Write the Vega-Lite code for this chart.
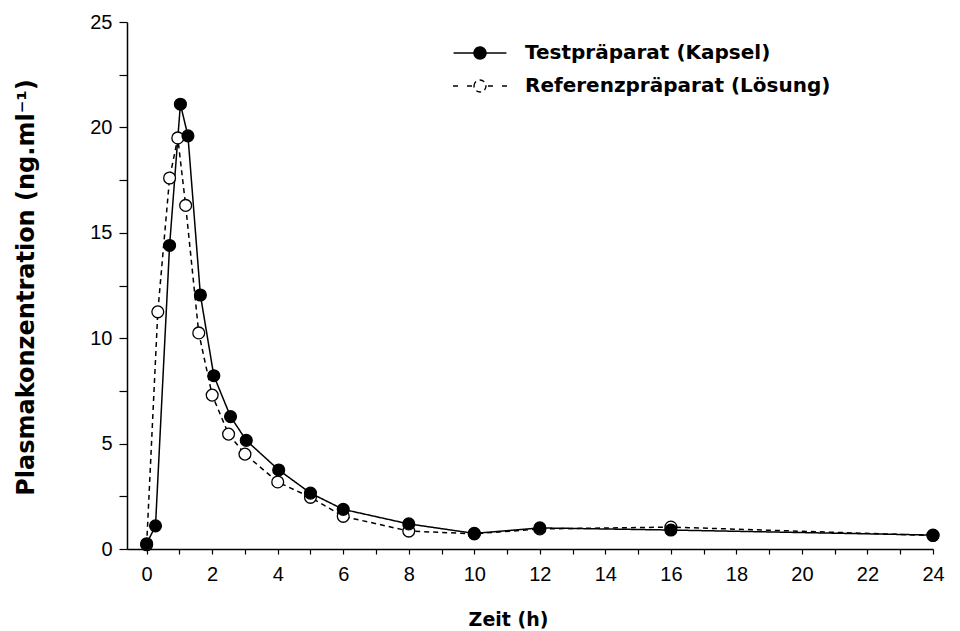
{
  "$schema": "https://vega.github.io/schema/vega-lite/v6.json",
  "width": 806,
  "height": 527,
  "autosize": {"type": "none"},
  "padding": {"left": 127, "top": 22, "right": 27, "bottom": 82},
  "background": "white",
  "config": {
    "view": {"stroke": null},
    "axis": {
      "domainColor": "black",
      "domainWidth": 1.5,
      "tickColor": "black",
      "tickWidth": 1.2,
      "labelColor": "black",
      "labelFont": "Liberation Sans",
      "labelFontSize": 20,
      "titleColor": "black",
      "titleFont": "DejaVu Sans",
      "titleFontWeight": "bold",
      "titleFontSize": 19,
      "grid": false
    },
    "legend": {
      "title": null,
      "orient": "none",
      "legendX": 343,
      "legendY": 21,
      "padding": 0,
      "symbolSize": 144,
      "symbolStrokeColor": "black",
      "symbolStrokeWidth": 1.4,
      "symbolOpacity": 1,
      "labelOffset": 35,
      "rowPadding": 13,
      "labelFont": "DejaVu Sans",
      "labelFontWeight": "bold",
      "labelFontSize": 20,
      "labelColor": "black",
      "labelLimit": 0
    }
  },
  "data": {
    "values": [
      {"t": 0, "c": 0.2, "s": "Referenzpräparat (Lösung)"},
      {"t": 0.34, "c": 11.25, "s": "Referenzpräparat (Lösung)"},
      {"t": 0.7, "c": 17.6, "s": "Referenzpräparat (Lösung)"},
      {"t": 0.95, "c": 19.5, "s": "Referenzpräparat (Lösung)"},
      {"t": 1.19, "c": 16.3, "s": "Referenzpräparat (Lösung)"},
      {"t": 1.59, "c": 10.25, "s": "Referenzpräparat (Lösung)"},
      {"t": 2.0, "c": 7.3, "s": "Referenzpräparat (Lösung)"},
      {"t": 2.5, "c": 5.45, "s": "Referenzpräparat (Lösung)"},
      {"t": 3.0, "c": 4.5, "s": "Referenzpräparat (Lösung)"},
      {"t": 4.0, "c": 3.18, "s": "Referenzpräparat (Lösung)"},
      {"t": 5.0, "c": 2.45, "s": "Referenzpräparat (Lösung)"},
      {"t": 6.0, "c": 1.55, "s": "Referenzpräparat (Lösung)"},
      {"t": 8.0, "c": 0.85, "s": "Referenzpräparat (Lösung)"},
      {"t": 10.0, "c": 0.72, "s": "Referenzpräparat (Lösung)"},
      {"t": 12.0, "c": 0.95, "s": "Referenzpräparat (Lösung)"},
      {"t": 16.0, "c": 1.04, "s": "Referenzpräparat (Lösung)"},
      {"t": 24.0, "c": 0.64, "s": "Referenzpräparat (Lösung)"},
      {"t": 0, "c": 0.25, "s": "Testpräparat (Kapsel)"},
      {"t": 0.27, "c": 1.1, "s": "Testpräparat (Kapsel)"},
      {"t": 0.7, "c": 14.4, "s": "Testpräparat (Kapsel)"},
      {"t": 1.03, "c": 21.1, "s": "Testpräparat (Kapsel)"},
      {"t": 1.26, "c": 19.6, "s": "Testpräparat (Kapsel)"},
      {"t": 1.64, "c": 12.05, "s": "Testpräparat (Kapsel)"},
      {"t": 2.05, "c": 8.22, "s": "Testpräparat (Kapsel)"},
      {"t": 2.56, "c": 6.28, "s": "Testpräparat (Kapsel)"},
      {"t": 3.04, "c": 5.15, "s": "Testpräparat (Kapsel)"},
      {"t": 4.03, "c": 3.75, "s": "Testpräparat (Kapsel)"},
      {"t": 5.0, "c": 2.65, "s": "Testpräparat (Kapsel)"},
      {"t": 6.0, "c": 1.88, "s": "Testpräparat (Kapsel)"},
      {"t": 8.0, "c": 1.19, "s": "Testpräparat (Kapsel)"},
      {"t": 10.0, "c": 0.74, "s": "Testpräparat (Kapsel)"},
      {"t": 12.0, "c": 1.0, "s": "Testpräparat (Kapsel)"},
      {"t": 16.0, "c": 0.9, "s": "Testpräparat (Kapsel)"},
      {"t": 24.0, "c": 0.66, "s": "Testpräparat (Kapsel)"}
    ]
  },
  "encoding": {
    "x": {
      "field": "t",
      "type": "quantitative",
      "scale": {"domain": [-0.6, 24], "nice": false, "zero": false},
      "axis": {
        "values": [0,1,2,3,4,5,6,7,8,9,10,11,12,13,14,15,16,17,18,19,20,21,22,23,24],
        "labelExpr": "datum.value % 2 == 0 ? datum.label : ''",
        "tickSize": 5,
        "labelPadding": 10,
        "labelFlush": false,
        "title": "Zeit (h)",
        "titleX": 381,
        "titleY": 70,
        "titleBaseline": "middle"
      }
    },
    "y": {
      "field": "c",
      "type": "quantitative",
      "scale": {"domain": [0, 25], "nice": false},
      "axis": {
        "values": [0,2.5,5,7.5,10,12.5,15,17.5,20,22.5,25],
        "labelExpr": "datum.value % 5 == 0 ? datum.label : ''",
        "tickSize": 8,
        "labelPadding": 7,
        "labelFlush": false,
        "title": "Plasmakonzentration (ng.ml⁻¹)",
        "titleFontSize": 24,
        "titleX": -101,
        "titleY": 265,
        "titleBaseline": "middle"
      }
    }
  },
  "layer": [
    {
      "mark": {"type": "line", "color": "black", "strokeWidth": 1.5},
      "encoding": {
        "detail": {"field": "s"},
        "strokeDash": {
          "field": "s",
          "type": "nominal",
          "sort": ["Testpräparat (Kapsel)", "Referenzpräparat (Lösung)"],
          "scale": {"domain": ["Testpräparat (Kapsel)", "Referenzpräparat (Lösung)"], "range": [[1, 0], [5, 4]]}
        }
      }
    },
    {
      "mark": {"type": "point", "shape": "circle", "size": 140, "stroke": "black", "strokeWidth": 1.3, "opacity": 1, "filled": true},
      "encoding": {
        "fill": {
          "field": "s",
          "type": "nominal",
          "sort": ["Testpräparat (Kapsel)", "Referenzpräparat (Lösung)"],
          "scale": {"domain": ["Testpräparat (Kapsel)", "Referenzpräparat (Lösung)"], "range": ["black", "white"]},
          "legend": {
            "encode": {
              "symbols": {
                "update": {
                  "shape": {"signal": "datum.index == 0 ? 'M-4.4,0H4.4M-1,0A1,1 0 1,1 1,0A1,1 0 1,1 -1,0Z' : 'M-4.5,0H-3.67M-2.17,0H-1.33M1.33,0H2.17M3.67,0H4.5M-1,0A1,1 0 1,1 1,0A1,1 0 1,1 -1,0Z'"},
                  "stroke": {"value": "black"},
                  "strokeWidth": {"value": 1.4},
                  "strokeDash": {"value": []},
                  "opacity": {"value": 1}
                }
              }
            }
          }
        }
      }
    }
  ]
}
